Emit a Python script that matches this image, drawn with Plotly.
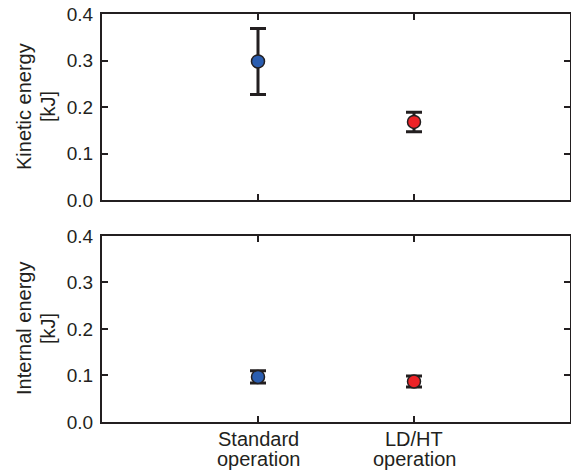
import plotly.graph_objects as go
from plotly.subplots import make_subplots

# Operating modes (x positions 1 and 2 on a 0..3 axis), label split into two lines
categories = [("Standard", "operation"), ("LD/HT", "operation")]
x_pos = [1, 2]

# Energy values [kJ] with symmetric error bars
kinetic_mean = [0.298, 0.168]
kinetic_err = [0.071, 0.021]
internal_mean = [0.097, 0.087]
internal_err = [0.013, 0.012]

# Y-axis titles, two lines each
titles = [("Kinetic energy", "[kJ]"), ("Internal energy", "[kJ]")]
y_ticks = [0.0, 0.1, 0.2, 0.3, 0.4]

marker_colors = ["#2a5db0", "#ec2227"]
ink = "#231f20"
font_family = "Liberation Sans, Arial, sans-serif"
fsize = 20

fig = make_subplots(rows=2, cols=1, shared_xaxes=False, vertical_spacing=0.088)

for row, (means, errs) in enumerate([(kinetic_mean, kinetic_err),
                                     (internal_mean, internal_err)], start=1):
    fig.add_trace(
        go.Scatter(
            x=x_pos,
            y=means,
            mode="markers",
            marker=dict(size=13, color=marker_colors,
                        line=dict(color=ink, width=1.5)),
            error_y=dict(type="data", array=errs, visible=True,
                         color=ink, thickness=3, width=8),
            showlegend=False,
        ),
        row=row, col=1,
    )

axis_common = dict(
    showline=True, linecolor=ink, linewidth=2, mirror="ticks",
    ticks="inside", ticklen=6, tickwidth=2, tickcolor=ink,
    showgrid=False, zeroline=False, automargin=False,
    tickfont=dict(family=font_family, size=19, color=ink),
)

for row in (1, 2):
    fig.update_xaxes(
        range=[0, 3], tickmode="array", tickvals=x_pos,
        showticklabels=False,
        row=row, col=1, **axis_common,
    )
    fig.update_yaxes(
        range=[0, 0.4], tickmode="array",
        tickvals=y_ticks, tickformat=".1f",
        ticklabelstandoff=3,
        row=row, col=1, **axis_common,
    )

fig.update_layout(
    width=571, height=471,
    margin=dict(l=102, r=1, t=14, b=49),
    paper_bgcolor="white", plot_bgcolor="white",
    font=dict(family=font_family, size=fsize, color=ink),
)
fig.layout.yaxis.domain = [0.544, 1.0]
fig.layout.yaxis2.domain = [0.0, 0.456]

# Category labels under the lower panel, one annotation per line
for xv, (line1, line2) in zip(x_pos, categories):
    for text, shift in ((line1, -17), (line2, -37)):
        fig.add_annotation(
            text=text, showarrow=False,
            xref="x2", x=xv, xanchor="center",
            yref="paper", y=0, yanchor="middle", yshift=shift,
            font=dict(family=font_family, size=fsize, color=ink),
        )

# Rotated two-line y titles, placed line by line for tight spacing
for (line1, line2), yref in zip(titles, ["y domain", "y2 domain"]):
    for text, shift in ((line1, -78), (line2, -54)):
        fig.add_annotation(
            text=text, textangle=-90, showarrow=False,
            xref="paper", x=0, xanchor="center", xshift=shift,
            yref=yref, y=0.5, yanchor="middle",
            font=dict(family=font_family, size=fsize, color=ink),
        )

fig.write_html("out.html")
